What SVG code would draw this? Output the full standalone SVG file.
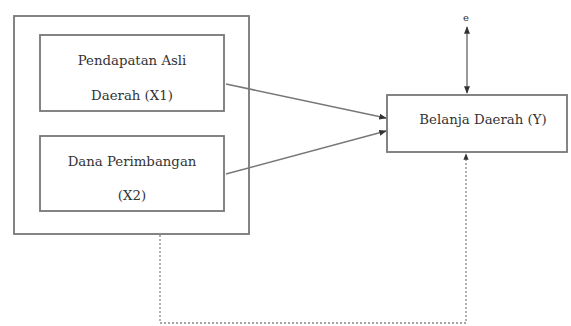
<svg xmlns="http://www.w3.org/2000/svg" width="571" height="326" viewBox="0 0 571 326">
<style>
.box{fill:#fff;stroke:#777;stroke-width:1.8}
.t{font-family:'DejaVu Serif','Liberation Serif',serif;font-size:13.3px;fill:#333;text-anchor:middle}
.ln{stroke:#777;stroke-width:1.5;fill:none}
.dot{stroke:#888;stroke-width:1.3;fill:none;stroke-dasharray:2 2}
</style>
<defs>
<marker id="ah" viewBox="0 0 10 10" refX="9" refY="5" markerWidth="5" markerHeight="5" orient="auto-start-reverse">
<path d="M0,1 L10,5 L0,9 z" fill="#333"/>
</marker>
</defs>
<rect width="571" height="326" fill="#fff"/>
<g id="outer"><rect class="box" x="14" y="16" width="235" height="218"/></g>
<g id="x1"><rect class="box" x="40" y="35" width="184" height="76"/>
<text class="t" x="132" y="65">Pendapatan Asli</text>
<text class="t" x="132" y="100">Daerah (X1)</text></g>
<g id="x2"><rect class="box" x="40" y="136" width="184" height="75"/>
<text class="t" x="132" y="166">Dana Perimbangan</text>
<text class="t" x="132" y="200">(X2)</text></g>
<g id="y"><rect class="box" x="387" y="95" width="180" height="57"/>
<text class="t" x="483" y="124">Belanja Daerah (Y)</text></g>
<g id="e"><text class="t" x="466" y="21" style="font-size:10px">e</text></g>
<g id="connectors">
<line class="ln" x1="226" y1="84" x2="386" y2="118" marker-end="url(#ah)"/>
<line class="ln" x1="226" y1="174" x2="386" y2="131" marker-end="url(#ah)"/>
<line class="ln" x1="467" y1="27" x2="467" y2="93" marker-start="url(#ah)" marker-end="url(#ah)"/>
<polyline class="dot" points="160,235 160,323 466,323 466,154" marker-end="url(#ah)"/>
</g>
</svg>
